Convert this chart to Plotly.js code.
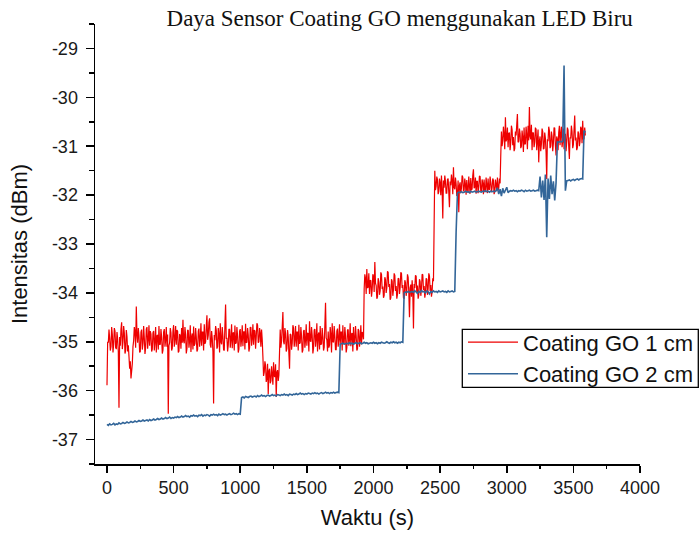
<!DOCTYPE html>
<html>
<head>
<meta charset="utf-8">
<script src="https://cdn.plot.ly/plotly-3.0.1.min.js"></script>
<style>html,body{margin:0;padding:0;background:#fff;}#chart{width:700px;height:533px;}</style>
</head>
<body>
<div id="chart"></div>
<script>
// sampling: first time (s) and intervals (s)
const timeStart = 0;
const go1cmStep = 5;
const go2cmStep = 10;

// Coating GO 1 cm (dBm), one reading every 5 s from 0 s
const go1cm = [
-35.89,-35.00,-35.02,-34.75,-34.93,-35.18,-35.10,-34.70,-34.85,-35.22,
-35.05,-34.72,-34.78,-35.12,-35.15,-34.80,-34.95,-35.20,-36.35,-34.90,
-35.08,-34.74,-34.60,-35.15,-35.00,-34.68,-34.82,-35.24,-35.18,-34.76,
-34.90,-35.20,-35.07,-35.30,-35.55,-35.40,-35.75,-35.60,-35.45,-35.10,
-34.98,-34.70,-34.80,-35.12,-34.28,-34.86,-35.02,-34.72,-34.88,-35.22,
-35.20,-34.80,-34.75,-35.16,-35.04,-34.68,-34.92,-35.25,-35.12,-34.74,
-34.70,-35.14,-34.96,-34.66,-35.08,-34.78,-34.84,-35.20,-35.15,-34.82,
-34.78,-35.18,-34.99,-34.70,-35.22,-34.88,-34.86,-35.16,-34.68,-35.06,
-35.05,-34.74,-34.91,-35.24,-35.17,-34.80,-34.74,-35.10,-34.97,-34.70,
-35.10,-34.85,-36.47,-35.08,-35.02,-34.72,-34.81,-35.18,-35.13,-34.78,
-34.66,-35.10,-34.94,-34.68,-35.06,-34.76,-34.79,-35.22,-35.19,-34.84,
-34.88,-35.14,-34.72,-35.02,-34.55,-34.98,-35.03,-34.70,-34.85,-35.24,
-35.14,-34.76,-34.77,-35.12,-34.98,-34.66,-35.21,-34.90,-34.83,-35.16,
-34.69,-35.08,-35.04,-34.72,-34.90,-35.20,-35.16,-34.78,-34.73,-35.10,
-34.95,-34.62,-35.08,-34.80,-34.80,-35.18,-34.64,-35.04,-35.00,-34.70,
-34.46,-34.96,-34.87,-34.60,-34.52,-35.06,-35.12,-34.78,-34.93,-35.20,
-36.26,-34.86,-34.97,-34.68,-34.76,-35.14,-35.10,-34.72,-34.84,-35.22,
-34.62,-35.00,-35.05,-34.70,-34.89,-35.16,-35.18,-34.66,-34.24,-34.94,
-34.92,-35.20,-35.07,-34.74,-34.75,-35.12,-34.96,-34.64,-35.13,-34.82,
-34.81,-35.18,-34.67,-35.04,-35.02,-34.70,-34.88,-35.22,-35.15,-34.78,
-34.74,-35.10,-34.95,-34.66,-35.09,-34.80,-34.79,-35.16,-34.63,-35.02,
-35.01,-34.72,-34.86,-35.20,-35.12,-34.70,-34.71,-35.08,-34.93,-34.64,
-35.06,-34.76,-34.78,-35.14,-34.90,-34.62,-34.66,-35.02,-35.00,-34.72,
-34.82,-35.10,-34.75,-34.96,-35.30,-35.70,-35.62,-35.40,-35.48,-35.82,
-35.75,-35.45,-36.07,-35.60,-35.55,-35.85,-35.80,-35.50,-35.66,-35.88,
-35.42,-35.70,-35.72,-35.46,-36.13,-35.62,-35.58,-35.80,-35.68,-35.20,
-34.75,-35.12,-34.98,-34.70,-34.39,-35.00,-35.05,-34.72,-34.82,-35.20,
-35.14,-34.76,-34.90,-35.24,-35.55,-34.84,-34.86,-35.16,-35.03,-34.66,
-34.72,-35.10,-34.95,-34.68,-35.10,-34.80,-34.80,-35.18,-34.65,-35.04,
-35.02,-34.70,-34.88,-35.22,-35.17,-34.78,-34.76,-35.12,-34.97,-34.64,
-35.08,-34.82,-34.83,-35.20,-34.58,-34.98,-35.00,-34.70,-34.87,-35.24,
-35.13,-34.76,-34.74,-35.10,-34.94,-34.62,-35.20,-34.86,-34.81,-35.16,
-34.68,-35.06,-35.04,-34.72,-34.90,-35.18,-35.11,-34.66,-34.20,-34.92,
-34.96,-35.20,-34.79,-35.12,-35.07,-34.70,-34.85,-35.22,-34.62,-35.00,
-35.01,-34.68,-34.89,-35.16,-35.16,-34.78,-34.73,-35.10,-34.94,-34.64,
-35.06,-34.80,-34.80,-35.18,-34.66,-35.04,-35.03,-34.70,-34.87,-35.22,
-35.12,-34.76,-34.75,-35.08,-34.95,-34.62,-35.09,-34.84,-34.82,-35.20,
-34.70,-35.02,-35.00,-34.68,-34.88,-35.18,-35.14,-34.74,-34.77,-35.10,
-34.96,-34.66,-35.05,-34.80,-34.84,-34.95,-33.92,-33.62,-33.70,-34.02,
-33.51,-33.90,-33.88,-33.60,-34.02,-33.74,-33.75,-34.08,-33.94,-33.62,
-33.66,-33.98,-33.37,-33.80,-33.85,-34.12,-34.08,-33.70,-33.78,-34.04,
-33.96,-33.58,-33.62,-33.92,-33.87,-34.10,-34.05,-33.68,-33.73,-34.00,
-33.90,-33.56,-33.58,-33.88,-33.82,-34.14,-34.10,-33.72,-33.76,-34.06,
-33.93,-33.60,-33.64,-33.96,-33.86,-34.12,-34.03,-33.70,-33.71,-34.02,
-33.89,-33.58,-33.60,-33.90,-33.84,-34.10,-34.12,-33.74,-33.79,-34.06,
-33.95,-33.62,-33.68,-33.98,-34.50,-33.90,-33.83,-34.08,-33.74,-34.00,
-34.73,-33.82,-33.90,-33.64,-33.66,-34.00,-33.85,-34.12,-34.04,-33.72,
-33.77,-34.06,-33.92,-33.62,-33.63,-33.94,-33.86,-34.10,-34.00,-33.70,
-33.72,-34.04,-33.91,-33.60,-33.65,-33.96,-33.84,-34.08,-33.97,-33.70,
-33.76,-32.60,-31.50,-31.90,-31.82,-31.62,-31.68,-31.98,-31.93,-31.66,
-31.75,-32.00,-31.60,-31.88,-32.48,-31.70,-31.85,-31.60,-31.72,-31.96,
-31.96,-31.68,-31.66,-31.94,-32.25,-31.72,-31.80,-31.58,-31.70,-31.98,
-31.43,-31.84,-31.88,-31.64,-31.77,-32.02,-31.98,-31.70,-32.35,-31.80,
-31.74,-31.96,-31.86,-31.60,-31.63,-31.92,-31.90,-31.66,-31.78,-31.99,
-31.69,-31.88,-31.95,-31.62,-31.81,-31.97,-31.65,-31.90,-31.87,-31.60,
-31.47,-31.86,-31.83,-31.64,-31.97,-31.72,-31.72,-31.96,-31.84,-31.61,
-31.62,-31.92,-31.91,-31.68,-31.76,-31.98,-31.68,-31.90,-31.94,-31.64,
-31.79,-31.96,-31.66,-31.88,-31.89,-31.62,-31.74,-31.94,-31.85,-31.66,
-31.70,-31.98,-31.93,-31.68,-31.78,-31.92,-31.64,-31.90,-31.86,-31.66,
-31.76,-31.20,-30.70,-31.00,-30.88,-30.60,-30.76,-31.06,-30.41,-30.90,
-30.85,-30.62,-31.02,-30.74,-30.72,-31.08,-30.93,-30.58,-30.66,-30.98,
-30.81,-31.10,-31.05,-30.70,-30.78,-30.56,-30.34,-30.92,-30.90,-30.64,
-30.74,-31.04,-31.00,-30.68,-30.83,-31.12,-30.62,-30.96,-30.95,-30.60,
-30.77,-31.06,-30.58,-30.88,-30.20,-30.80,-30.86,-30.56,-31.08,-30.72,
-30.73,-31.02,-30.92,-30.62,-30.65,-31.08,-30.88,-30.66,-31.33,-30.90,
-30.80,-31.10,-30.96,-30.64,-30.70,-31.06,-31.04,-30.72,-30.84,-31.12,
-31.67,-30.86,-30.90,-30.60,-30.68,-31.04,-31.00,-30.70,-30.79,-31.10,
-30.94,-30.62,-30.63,-30.98,-31.19,-30.80,-30.86,-31.08,-30.72,-30.58,
-30.98,-30.74,-30.60,-31.02,-30.89,-30.64,-31.06,-30.76,-30.75,-31.10,
-30.92,-30.62,-30.67,-31.00,-31.26,-30.82,-30.84,-30.58,-30.70,-31.04,
-30.97,-30.66,-30.37,-30.88,-30.82,-31.08,-31.03,-30.70,-30.74,-31.00,
-30.90,-30.60,-30.64,-30.94,-30.48,-30.86,-30.85,-30.62,-30.78
];

// Coating GO 2 cm (dBm), one reading every 10 s from 0 s
const go2cm = [
-36.69,-36.71,-36.68,-36.70,-36.69,-36.67,-36.70,-36.68,-36.69,-36.66,
-36.68,-36.67,-36.65,-36.67,-36.66,-36.64,-36.66,-36.65,-36.63,-36.65,
-36.64,-36.62,-36.64,-36.63,-36.61,-36.63,-36.62,-36.60,-36.62,-36.61,
-36.60,-36.62,-36.59,-36.61,-36.60,-36.58,-36.60,-36.59,-36.57,-36.59,
-36.58,-36.56,-36.58,-36.57,-36.55,-36.57,-36.56,-36.54,-36.57,-36.55,
-36.56,-36.54,-36.55,-36.53,-36.55,-36.54,-36.52,-36.54,-36.53,-36.51,
-36.53,-36.52,-36.54,-36.51,-36.52,-36.50,-36.52,-36.51,-36.53,-36.50,
-36.51,-36.49,-36.52,-36.50,-36.51,-36.49,-36.50,-36.52,-36.49,-36.50,
-36.48,-36.50,-36.49,-36.51,-36.48,-36.50,-36.49,-36.47,-36.49,-36.48,
-36.50,-36.48,-36.47,-36.49,-36.48,-36.46,-36.48,-36.47,-36.49,-36.47,
-36.48,-36.14,-36.13,-36.15,-36.12,-36.13,-36.14,-36.12,-36.11,-36.13,
-36.12,-36.11,-36.13,-36.10,-36.12,-36.11,-36.09,-36.11,-36.10,-36.12,
-36.10,-36.09,-36.11,-36.10,-36.08,-36.10,-36.09,-36.11,-36.08,-36.09,
-36.10,-36.08,-36.09,-36.07,-36.09,-36.08,-36.10,-36.07,-36.08,-36.09,
-36.07,-36.08,-36.06,-36.08,-36.07,-36.05,-36.07,-36.06,-36.08,-36.06,
-36.07,-36.05,-36.06,-36.07,-36.05,-36.06,-36.04,-36.06,-36.05,-36.07,
-36.05,-36.04,-36.06,-36.05,-36.03,-36.05,-36.04,-36.06,-36.04,-36.05,
-36.03,-36.05,-36.04,-36.03,-36.04,-35.05,-35.04,-35.03,-35.05,-35.04,
-35.03,-35.04,-35.02,-35.04,-35.03,-35.05,-35.03,-35.02,-35.04,-35.03,
-35.02,-35.04,-35.03,-35.01,-35.03,-35.02,-35.04,-35.03,-35.02,-35.03,
-35.01,-35.03,-35.02,-35.04,-35.02,-35.03,-35.01,-35.02,-35.03,-35.02,
-35.00,-35.02,-35.03,-35.01,-35.02,-35.00,-35.02,-35.01,-35.03,-35.01,
-35.02,-35.00,-35.01,-34.00,-33.98,-33.99,-33.97,-33.99,-33.98,-33.97,
-33.99,-33.96,-33.98,-34.01,-33.97,-33.99,-33.95,-33.98,-33.97,-34.00,
-33.96,-33.98,-34.02,-33.97,-33.99,-33.96,-33.98,-33.97,-33.99,-33.96,
-33.98,-33.97,-33.96,-33.98,-33.97,-33.99,-33.96,-33.98,-33.97,-33.96,
-33.98,-33.97,-32.76,-31.96,-31.94,-31.95,-31.93,-31.95,-31.94,-31.92,
-31.94,-31.93,-31.95,-31.92,-31.94,-31.93,-31.92,-31.94,-31.93,-31.92,
-31.93,-31.94,-31.92,-31.93,-31.91,-31.93,-31.92,-31.94,-31.92,-31.93,
-31.92,-31.93,-31.91,-31.85,-31.98,-31.88,-32.02,-31.86,-31.96,-31.90,
-31.84,-31.95,-31.92,-31.91,-31.92,-31.90,-31.92,-31.91,-31.93,-31.91,
-31.92,-31.90,-31.91,-31.93,-31.90,-31.92,-31.91,-31.90,-31.92,-31.91,
-31.90,-31.92,-31.91,-31.90,-31.91,-31.62,-32.05,-31.70,-32.10,-31.58,
-32.86,-31.66,-32.08,-31.60,-31.98,-31.72,-32.11,-31.75,-30.91,-30.92,
-30.90,-30.91,-30.90,-29.35,-31.91,-31.71,-31.70,-31.69,-31.71,-31.69,
-31.68,-31.70,-31.68,-31.67,-31.69,-31.67,-31.66,-31.67,-30.68,-30.72
];

const seriesNames = ['Coating GO 1 cm', 'Coating GO 2 cm'];
const xTickVals = [0, 500, 1000, 1500, 2000, 2500, 3000, 3500, 4000];
const xTickText = ['0', '500', '1000', '1500', '2000', '2500', '3000', '3500', '4000'];
const yTickVals = [-37, -36, -35, -34, -33, -32, -31, -30, -29];
const yTickText = ['-37', '-36', '-35', '-34', '-33', '-32', '-31', '-30', '-29'];

const sans = 'Arial, "Liberation Sans", sans-serif';
const serif = '"Times New Roman", "Liberation Serif", serif';

const traces = [
  {type: 'scatter', mode: 'lines', name: seriesNames[0], x0: timeStart, dx: go1cmStep, y: go1cm,
   line: {color: '#ee0000', width: 1.2, simplify: false}},
  {type: 'scatter', mode: 'lines', name: seriesNames[1], x0: timeStart, dx: go2cmStep, y: go2cm,
   line: {color: '#336699', width: 1.6, simplify: false}}
];

const axisCommon = {
  showline: true, linecolor: '#000', linewidth: 1.5, mirror: false,
  showgrid: false, zeroline: false, ticks: 'outside', tickcolor: '#000', tickwidth: 1.5,
  tickmode: 'array', tickfont: {family: sans, size: 18, color: '#1a1a1a'}
};

const layout = {
  width: 700, height: 533,
  paper_bgcolor: '#fff', plot_bgcolor: '#fff',
  margin: {l: 95, r: 60, t: 24, b: 69, autoexpand: false},
  showlegend: true,
  title: {text: 'Daya Sensor Coating GO menggunakan LED Biru', font: {family: serif, size: 23, color: '#111'},
          xref: 'container', x: 399.7 / 700, xanchor: 'center', yref: 'container', y: 1 - 18 / 533, yanchor: 'middle'},
  xaxis: Object.assign({}, axisCommon, {
    range: [-90, 4000], tickvals: xTickVals, ticktext: xTickText, ticklen: 7,
    minor: {ticks: 'outside', ticklen: 3.5, dtick: 250, tick0: 0, tickcolor: '#000', tickwidth: 1.5, showgrid: false},
    title: {text: 'Waktu (s)', font: {family: sans, size: 22, color: '#111'}, standoff: 12}
  }),
  yaxis: Object.assign({}, axisCommon, {
    range: [-37.5, -28.5], tickvals: yTickVals, ticktext: yTickText, ticklen: 8, ticklabelstandoff: 4,
    minor: {ticks: 'outside', ticklen: 5, dtick: 0.5, tick0: 0, tickcolor: '#000', tickwidth: 1.5, showgrid: false},
    title: {text: 'Intensitas (dBm)', font: {family: sans, size: 22, color: '#111'}, standoff: 18}
  }),
  shapes: [
    {type: 'rect', xref: 'paper', yref: 'paper', layer: 'above',
     x0: (462.3 - 95) / 545, x1: (698.3 - 95) / 545, y0: (464 - 387.3) / 440, y1: (464 - 329.3) / 440,
     line: {color: '#000', width: 1.3}, fillcolor: '#fff'}
  ],
  legend: {x: (463 - 95) / 545, xanchor: 'left', y: (464 - 358.3) / 440, yanchor: 'middle',
           bgcolor: 'rgba(0,0,0,0)', borderwidth: 0,
           font: {family: sans, size: 22, color: '#111'}, tracegroupgap: 0, itemwidth: 50}
};

Plotly.newPlot('chart', traces, layout, {displayModeBar: false, staticPlot: true});
</script>
</body>
</html>
